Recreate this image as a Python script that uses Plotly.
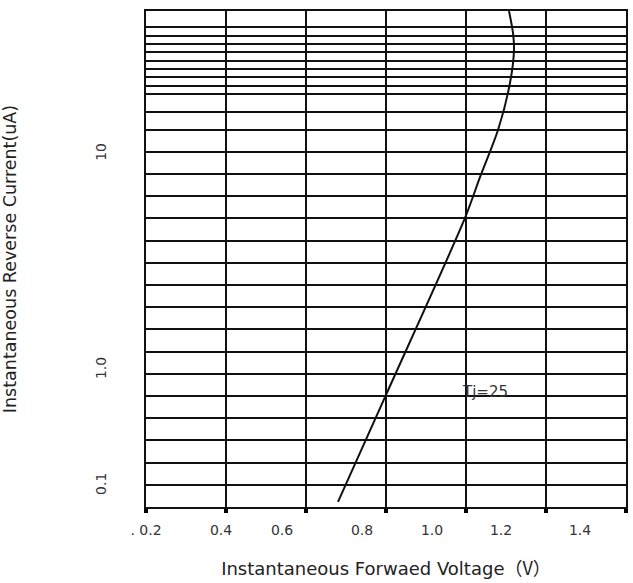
import plotly.graph_objects as go

# ---- data ----
# x: forward voltage axis units (grid lines every 0.2 V from 0.2 to 1.4)
grid_x = [0.2, 0.4, 0.6, 0.8, 1.0, 1.2, 1.4]
x_tick_vals = [0.2, 0.3875, 0.54, 0.74, 0.915, 1.0875, 1.285]
x_tick_text = [". 0.2", "0.4", "0.6", "0.8", "1.0", "1.2", "1.4"]

# y: position on the printed (non-uniform) chart grid, in grid-row units
grid_y = [0, 1, 2, 3, 4, 5, 6, 7, 8, 9, 10, 11, 12, 13, 14, 15, 15.98, 16.98,
          17.79, 18.62, 18.98, 19.36, 19.73, 20.1, 20.48, 20.86, 21.23, 21.61, 22.34]
y_tick_vals = [0.95, 6.17, 15.9]
y_tick_text = ["0.1", "1.0", "10"]

# Tj=25 curve
curve_v = [0.68, 0.80, 0.9975, 1.035, 1.08, 1.11, 1.12, 1.1175, 1.1075]
curve_y = [0.23, 5.05, 13.02, 14.86, 16.98, 19.1, 20.59, 21.35, 22.34]

label_text = "Tj=25"
label_x = 0.985
label_y = 5.18

x_title = ("Instantaneous Forwaed Voltage"
           "<span style=\"font-family:'Noto Sans CJK SC'\">（V）</span>")
y_title = "Instantaneous Reverse Current(uA)"

fig = go.Figure()
fig.add_trace(go.Scatter(
    x=curve_v, y=curve_y, mode="lines",
    line=dict(color="#111111", width=2, shape="spline", smoothing=0.8),
    showlegend=False, hoverinfo="skip",
))

fig.add_annotation(
    x=label_x, y=label_y, text=label_text, showarrow=False,
    xanchor="left", yanchor="middle",
    font=dict(family="DejaVu Sans", size=15, color="#333333"),
)

fig.update_layout(
    width=633, height=583,
    margin=dict(l=146, r=7, t=11, b=76),
    paper_bgcolor="white", plot_bgcolor="white",
    font=dict(family="DejaVu Sans", color="#333333"),
)

fig.update_xaxes(
    range=[0.2, 1.4], automargin=False,
    tickmode="array", tickvals=x_tick_vals, ticktext=x_tick_text,
    showgrid=False, ticks="", ticklabelstandoff=9,
    tickfont=dict(family="DejaVu Sans", size=14, color="#333333"),
    minor=dict(tickmode="array", tickvals=grid_x, showgrid=True,
               gridcolor="#111111", gridwidth=1.6,
               ticks="outside", ticklen=4, tickwidth=4, tickcolor="#000000"),
    showline=True, linecolor="#111111", linewidth=2, mirror=True,
    zeroline=False,
    title=dict(text=x_title,
               font=dict(family="DejaVu Sans", size=18, color="#222222"),
               standoff=26),
)

fig.update_yaxes(
    range=[0, 22.34], automargin=False,
    tickmode="array", tickvals=y_tick_vals, ticktext=y_tick_text,
    tickangle=-90, showgrid=False, ticks="", ticklabelstandoff=32,
    tickfont=dict(family="DejaVu Sans", size=14, color="#333333"),
    minor=dict(tickmode="array", tickvals=grid_y, showgrid=True,
               gridcolor="#111111", gridwidth=1.6, ticks=""),
    showline=True, linecolor="#111111", linewidth=2, mirror=True,
    zeroline=False,
    title=dict(text=y_title,
               font=dict(family="DejaVu Sans", size=17.5, color="#222222"),
               standoff=79),
)

fig.write_html("out.html", config={"displayModeBar": False},
               post_script="document.body.style.margin='0';")
